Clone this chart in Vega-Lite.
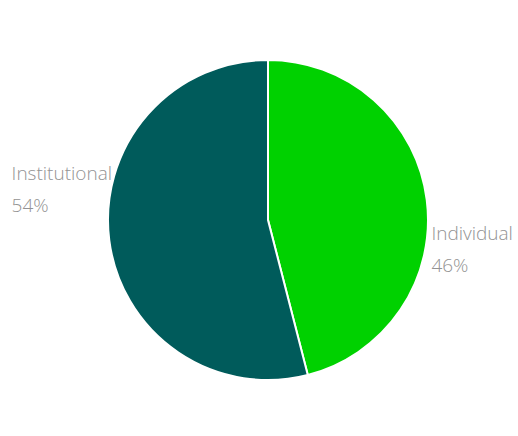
{
  "$schema": "https://vega.github.io/schema/vega-lite/v6.json",
  "width": 518,
  "height": 436,
  "autosize": {"type": "fit", "contains": "padding"},
  "padding": {"left": 18, "right": 0, "top": 4, "bottom": 0},
  "background": "white",
  "config": {"view": {"stroke": null}},
  "data": {"values": [
    {"type": "Individual", "pct": 46},
    {"type": "Institutional", "pct": 54}
  ]},
  "transform": [
    {"stack": "pct", "groupby": [], "sort": [{"field": "type", "order": "ascending"}], "as": ["p0", "p1"]},
    {"calculate": "(datum.p0 + datum.p1) / 2", "as": "mid"},
    {"calculate": "[datum.type, datum.pct + '%']", "as": "label"}
  ],
  "layer": [
    {
      "mark": {"type": "arc", "outerRadius": 160, "stroke": "white", "strokeWidth": 2},
      "encoding": {
        "theta": {"field": "p0", "type": "quantitative", "scale": {"domain": [0, 100]}},
        "theta2": {"field": "p1"},
        "color": {
          "field": "type", "type": "nominal",
          "scale": {"domain": ["Individual", "Institutional"], "range": ["#00d100", "#005b5b"]},
          "legend": null
        }
      }
    },
    {
      "transform": [{"filter": "datum.type === 'Individual'"}],
      "mark": {"type": "text", "radius": 205, "dx": -40, "dy": 40, "fontSize": 19, "font": "Open Sans", "fontWeight": 300, "fill": "#939393", "align": "left", "baseline": "middle", "lineHeight": 32},
      "encoding": {
        "theta": {"field": "mid", "type": "quantitative", "scale": {"domain": [0, 100]}},
        "text": {"field": "label"}
      }
    },
    {
      "transform": [{"filter": "datum.type === 'Institutional'"}],
      "mark": {"type": "text", "radius": 205, "dx": -53, "dy": -72, "fontSize": 19, "font": "Open Sans", "fontWeight": 300, "fill": "#939393", "align": "left", "baseline": "middle", "lineHeight": 32},
      "encoding": {
        "theta": {"field": "mid", "type": "quantitative", "scale": {"domain": [0, 100]}},
        "text": {"field": "label"}
      }
    }
  ]
}
